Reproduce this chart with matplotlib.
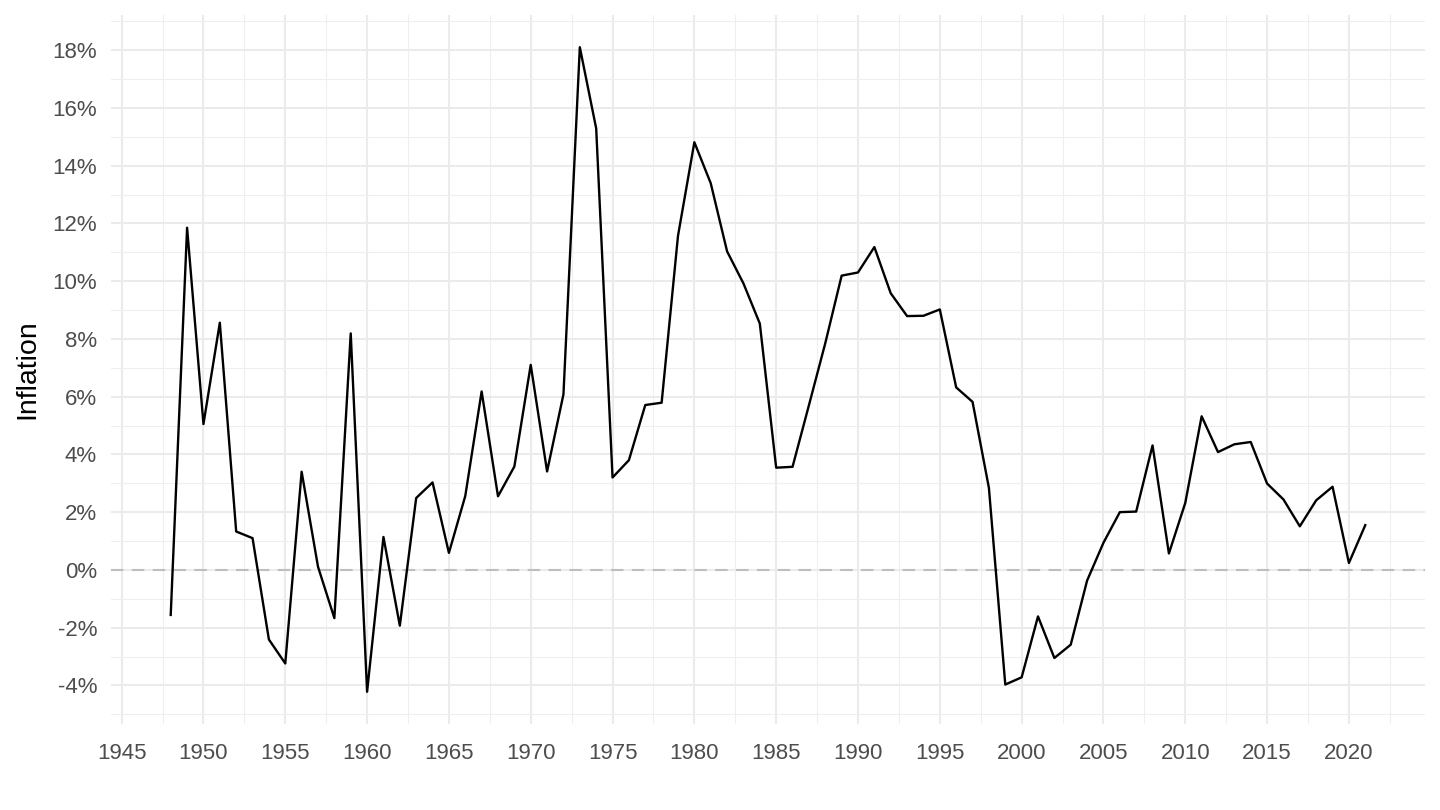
import matplotlib.pyplot as plt
from matplotlib.ticker import MultipleLocator, FuncFormatter

# annual inflation, %
years = list(range(1948, 2022))
inflation = [
    -1.56, 11.85, 5.05, 8.56, 1.33, 1.10, -2.41, -3.24, 3.40, 0.11,
    -1.67, 8.19, -4.22, 1.14, -1.93, 2.49, 3.03, 0.59, 2.56, 6.18,
    2.55, 3.58, 7.10, 3.41, 6.08, 18.10, 15.29, 3.20, 3.80, 5.71,
    5.79, 11.57, 14.81, 13.39, 11.03, 9.92, 8.53, 3.54, 3.57, 5.70,
    7.85, 10.19, 10.30, 11.18, 9.58, 8.79, 8.80, 9.02, 6.32, 5.82,
    2.84, -3.97, -3.72, -1.61, -3.05, -2.59, -0.37, 0.94, 2.00, 2.02,
    4.31, 0.57, 2.32, 5.32, 4.08, 4.35, 4.43, 2.99, 2.44, 1.51,
    2.41, 2.88, 0.24, 1.55,
]

plt.rcParams['font.family'] = ['Liberation Sans', 'DejaVu Sans']

fig = plt.figure(figsize=(14.4, 8.1), dpi=100)
# panel in pixels: x 111..1425, y 15..724
ax = fig.add_axes([111 / 1440, 1 - 724 / 810, (1425 - 111) / 1440, (724 - 15) / 810])

# ggplot-like 5% expansion
xr = years[-1] - years[0]
ax.set_xlim(years[0] - 0.05 * xr, years[-1] + 0.05 * xr)
yr = max(inflation) - min(inflation)
ax.set_ylim(min(inflation) - 0.05 * yr, max(inflation) + 0.05 * yr)

ax.xaxis.set_major_locator(MultipleLocator(5))
ax.xaxis.set_minor_locator(MultipleLocator(2.5))
ax.yaxis.set_major_locator(MultipleLocator(2))
ax.yaxis.set_minor_locator(MultipleLocator(1))
ax.yaxis.set_major_formatter(FuncFormatter(lambda v, p: f'{v:.0f}%'))

ax.grid(which='major', color='#EBEBEB', linewidth=1.5)
ax.grid(which='minor', color='#EFEFEF', linewidth=0.8)
ax.set_axisbelow(True)
for s in ax.spines.values():
    s.set_visible(False)

ax.tick_params(which='both', length=0)
ax.tick_params(axis='both', labelsize=16, labelcolor='#4D4D4D')
ax.tick_params(axis='x', pad=14)
ax.tick_params(axis='y', pad=10)

ax.axhline(0, color='#BEBEBE', linewidth=1.5, dashes=(6, 4), zorder=2)
ax.plot(years, inflation, color='black', linewidth=1.7, zorder=3)

ax.set_ylabel('Inflation', fontsize=20.5, color='black', labelpad=9)
ax.set_xlabel('')

fig.savefig('out.png', dpi=100)
plt.close(fig)
